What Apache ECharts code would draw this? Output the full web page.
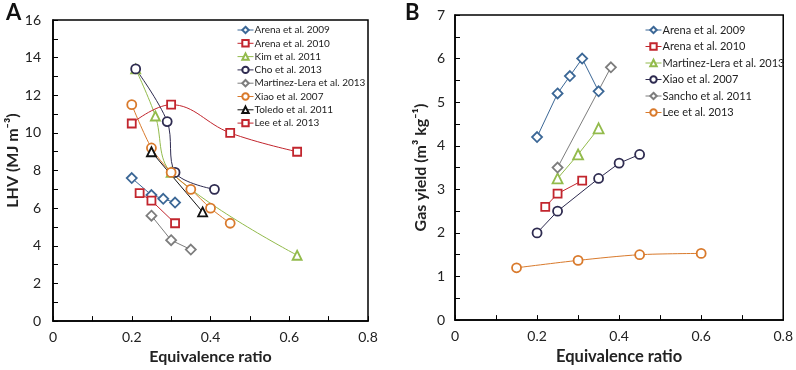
<!DOCTYPE html>
<html>
<head>
<meta charset="utf-8">
<script src="https://cdn.jsdelivr.net/npm/echarts@6/dist/echarts.min.js"></script>
<style>
  html, body { margin: 0; padding: 0; background: #fff; }
  #chart { width: 796px; height: 370px; }
</style>
</head>
<body>
<div id="chart"></div>
<script>
// Panel A: LHV (MJ m-3) vs equivalence ratio
const lhvArena2009 = [[0.2, 7.6], [0.25, 6.7], [0.28, 6.5], [0.31, 6.3]];
const lhvArena2010 = [[0.22, 6.8], [0.25, 6.4], [0.31, 5.2]];
const lhvKim2011 = [[0.21, 13.4], [0.26, 10.9], [0.3, 7.9], [0.62, 3.5]];
const lhvCho2013 = [[0.21, 13.4], [0.29, 10.6], [0.31, 7.9], [0.41, 7.0]];
const lhvMartinez2013 = [[0.25, 5.6], [0.3, 4.3], [0.35, 3.8]];
const lhvXiao2007 = [[0.2, 11.5], [0.25, 9.2], [0.3, 7.9], [0.35, 7.0], [0.4, 6.0], [0.45, 5.2]];
const lhvToledo2011 = [[0.25, 9.0], [0.38, 5.8]];
const lhvLee2013 = [[0.2, 10.5], [0.3, 11.5], [0.45, 10.0], [0.62, 9.0]];

// Panel B: gas yield (m3 kg-1) vs equivalence ratio
const gyArena2009 = [[0.2, 4.2], [0.25, 5.2], [0.28, 5.6], [0.31, 6.0], [0.35, 5.25]];
const gyArena2010 = [[0.22, 2.6], [0.25, 2.9], [0.31, 3.2]];
const gyMartinez2013 = [[0.25, 3.25], [0.3, 3.8], [0.35, 4.4]];
const gyXiao2007 = [[0.2, 2.0], [0.25, 2.5], [0.35, 3.25], [0.4, 3.6], [0.45, 3.8]];
const gySancho2011 = [[0.25, 3.5], [0.38, 5.8]];
const gyLee2013 = [[0.15, 1.2], [0.3, 1.37], [0.45, 1.5], [0.6, 1.53]];

const FONT = 'Lato';
const BLUE = '#3b6796', RED = '#c2262e', GREEN = '#93bb4c', NAVY = '#2e2b50',
      GRAY = '#7d7d7d', ORANGE = '#d97a2c', BLACK = '#111111';

function mk(name, data, idx, color, symbol, size, smooth) {
  return {
    name: name,
    type: 'line',
    xAxisIndex: idx,
    yAxisIndex: idx,
    data: data,
    symbol: symbol,
    symbolSize: size,
    smooth: smooth || false,
    itemStyle: { color: '#fff', borderColor: color, borderWidth: 1.8 },
    lineStyle: { color: color, width: 1 },
    emphasis: { disabled: true },
    z: 3
  };
}

const seriesA = [
  mk('Arena et al. 2009', lhvArena2009, 0, BLUE, 'diamond', 10),
  mk('Arena et al. 2010', lhvArena2010, 0, RED, 'rect', 8),
  mk('Kim et al. 2011', lhvKim2011, 0, GREEN, 'triangle', 9, 0.35),
  mk('Cho et al. 2013', lhvCho2013, 0, NAVY, 'circle', 9, 0.35),
  mk('Martinez-Lera et al. 2013', lhvMartinez2013, 0, GRAY, 'diamond', 10),
  mk('Xiao et al. 2007', lhvXiao2007, 0, ORANGE, 'circle', 9, 0.3),
  mk('Toledo et al. 2011', lhvToledo2011, 0, BLACK, 'triangle', 9),
  mk('Lee et al. 2013', lhvLee2013, 0, RED, 'rect', 8, 0.4)
];
const seriesB = [
  mk('B:Arena et al. 2009', gyArena2009, 1, BLUE, 'diamond', 10),
  mk('B:Arena et al. 2010', gyArena2010, 1, RED, 'rect', 8),
  mk('B:Martinez-Lera et al. 2013', gyMartinez2013, 1, GREEN, 'triangle', 10),
  mk('B:Xiao et al. 2007', gyXiao2007, 1, NAVY, 'circle', 9),
  mk('B:Sancho et al. 2011', gySancho2011, 1, GRAY, 'diamond', 10),
  mk('B:Lee et al. 2013', gyLee2013, 1, ORANGE, 'circle', 9, 0.3)
];

function xAx(idx, nameSize) {
  return {
    type: 'value', gridIndex: idx, min: 0, max: 0.8, interval: 0.2,
    name: 'Equivalence ratio', nameLocation: 'middle', nameGap: 27,
    nameTextStyle: { fontFamily: FONT, fontSize: nameSize, fontWeight: 'bold', color: '#222' },
    axisLine: { show: true, lineStyle: { color: '#000', width: 1.5 } },
    axisTick: { show: true, inside: true, length: 5, lineStyle: { color: '#000' } },
    minorTick: { show: true, splitNumber: 2, length: 5, lineStyle: { color: '#000' } },
    axisLabel: { fontFamily: FONT, fontSize: 14, color: '#222', margin: 9, showMinLabel: true },
    splitLine: { show: false }
  };
}
function yAx(idx, max, name, gap, nameSize, shift, labMargin) {
  return {
    type: 'value', gridIndex: idx, min: 0, max: max, interval: idx === 0 ? 2 : 1,
    name: name, nameLocation: 'middle', nameGap: gap,
    nameTextStyle: { fontFamily: FONT, fontSize: nameSize, fontWeight: 'bold', color: '#222', padding: [0, 0, 0, shift] },
    axisLine: { show: true, lineStyle: { color: '#000', width: 1.5 } },
    axisTick: { show: true, inside: true, length: 5, lineStyle: { color: '#000' } },
    minorTick: { show: true, splitNumber: 2, length: 5, lineStyle: { color: '#000' } },
    axisLabel: { fontFamily: FONT, fontSize: 14, color: '#222', margin: labMargin },
    splitLine: { show: false }
  };
}

const chart = echarts.init(document.getElementById('chart'), null, { renderer: 'canvas' });
const option = {
  animation: false,
  backgroundColor: '#fff',
  title: [
    { text: 'A', left: 1, top: -3, textStyle: { fontFamily: FONT, fontSize: 22, fontWeight: 'bold', color: '#111' } },
    { text: 'B', left: 400, top: -3, textStyle: { fontFamily: FONT, fontSize: 22, fontWeight: 'bold', color: '#111' } }
  ],
  grid: [
    { left: 53, top: 20, width: 315, height: 306, show: true, borderColor: '#000', borderWidth: 1.5, backgroundColor: 'transparent' },
    { left: 455, top: 15, width: 332, height: 316, show: true, borderColor: '#000', borderWidth: 1.5, backgroundColor: 'transparent' }
  ],
  xAxis: [xAx(0, 16), xAx(1, 16.5)],
  yAxis: [yAx(0, 16, 'LHV (MJ m⁻³)', 31, 16, 20, 12), yAx(1, 7, 'Gas yield (m³ kg⁻¹)', 26, 16, 0, 10)],
  legend: [
    {
      data: seriesA.map(s => s.name),
      orient: 'vertical', left: 232, top: 19,
      itemWidth: 16, itemHeight: 8, itemGap: 1.3,
      lineStyle: { width: 1 },
      textStyle: { fontFamily: FONT, fontSize: 10, lineHeight: 12, color: '#222', padding: [0, 0, 0, -4] }
    },
    {
      data: seriesB.map(s => s.name),
      orient: 'vertical', left: 640, top: 19,
      itemWidth: 16, itemHeight: 8, itemGap: 4.5,
      lineStyle: { width: 1 },
      formatter: n => n.replace('B:', ''),
      textStyle: { fontFamily: FONT, fontSize: 11, lineHeight: 12, color: '#222', padding: [0, 0, 0, -4] }
    }
  ],
  series: seriesA.concat(seriesB)
};
chart.setOption(option);
</script>
</body>
</html>
